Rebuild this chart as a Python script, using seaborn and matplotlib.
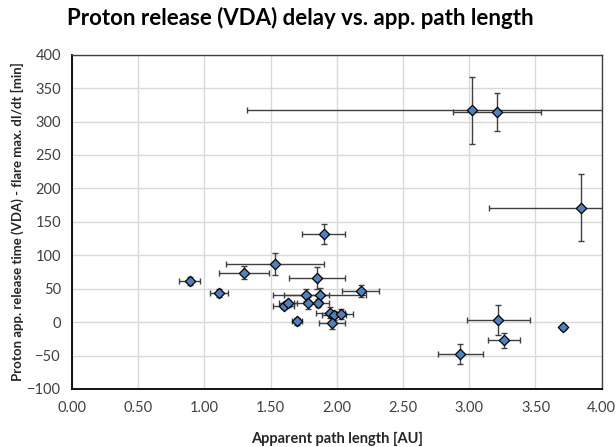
import numpy as np
import pandas as pd
import matplotlib.pyplot as plt
import seaborn as sns

# apparent path length [AU] and delay [min], with error bars
path_au = [0.89, 1.11, 1.30, 1.53, 1.90, 1.85, 1.77, 1.87, 1.78, 1.86, 1.60, 1.63, 1.70,
           1.95, 1.98, 2.03, 1.965, 2.18, 3.02, 3.21, 3.84, 3.22, 3.26, 2.93, 3.71]
delay_min = [61, 43, 74, 87, 132, 66, 41, 41, 29, 28, 24, 28, 1,
             14, 10, 12, -2, 46, 317, 314, 171, 3, -27, -48, -8]
path_err = [0.08, 0.07, 0.19, 0.37, 0.16, 0.21, 0.17, 0.35, 0.10, 0.08, 0.08, 0.07, 0.04,
            0.11, 0.09, 0.09, 0.10, 0.14, 1.70, 0.33, 0.69, 0.24, 0.12, 0.17, 0.02]
delay_err = [6, 6, 10, 16, 15, 17, 9, 10, 9, 6, 5, 5, 5,
             8, 7, 7, 8, 9, 50, 28, 50, 22, 11, 15, 4]

x_ticks = [0.0, 0.5, 1.0, 1.5, 2.0, 2.5, 3.0, 3.5, 4.0]
y_ticks = [-100, -50, 0, 50, 100, 150, 200, 250, 300, 350, 400]

df = pd.DataFrame({"path": path_au, "delay": delay_min,
                   "xerr": path_err, "yerr": delay_err})

sns.set_style("whitegrid")
plt.rcParams["font.family"] = ["Lato", "DejaVu Sans"]

fig = plt.figure(figsize=(6.16, 4.47), dpi=100)
ax = fig.add_axes([0.1169, 0.1298, 0.8599, 0.7478])

ax.errorbar(df["path"], df["delay"], xerr=df["xerr"], yerr=df["yerr"],
            fmt="none", ecolor="#404040", elinewidth=1.0, capsize=2.5,
            capthick=1.0, zorder=2)
sns.scatterplot(data=df, x="path", y="delay", marker="D", s=28,
                color="#4f81bd", edgecolor="black", linewidth=0.9,
                zorder=3, ax=ax, legend=False)

ax.set_xlim(0, 4)
ax.set_ylim(-100, 400)
ax.set_xticks(x_ticks)
ax.set_xticklabels([f"{v:.2f}" for v in x_ticks])
ax.set_yticks(y_ticks)
ax.grid(True, color="#d9d9d9", linewidth=1.0)
ax.tick_params(axis="both", which="major", direction="out", length=4, width=1,
               color="black", labelsize=10.5, labelcolor="#404040", pad=4)
ax.tick_params(axis="x", pad=5)
for side in ["left", "bottom"]:
    ax.spines[side].set_color("black")
    ax.spines[side].set_linewidth(1.3)
for side in ["top", "right"]:
    ax.spines[side].set_color("#404040")
    ax.spines[side].set_linewidth(1.0)

ax.set_xlabel("Apparent path length [AU]", fontsize=10.5, fontweight="bold",
              color="#262626", labelpad=12)
ax.set_ylabel("Proton app. release time (VDA) - flare max. dI/dt [min]",
              fontsize=9.5, fontweight="bold", color="#262626", labelpad=2)
fig.suptitle("Proton release (VDA) delay vs. app. path length", x=0.487, y=0.985,
             fontsize=16, fontweight="bold", color="black")

fig.savefig("out.png", dpi=100)
